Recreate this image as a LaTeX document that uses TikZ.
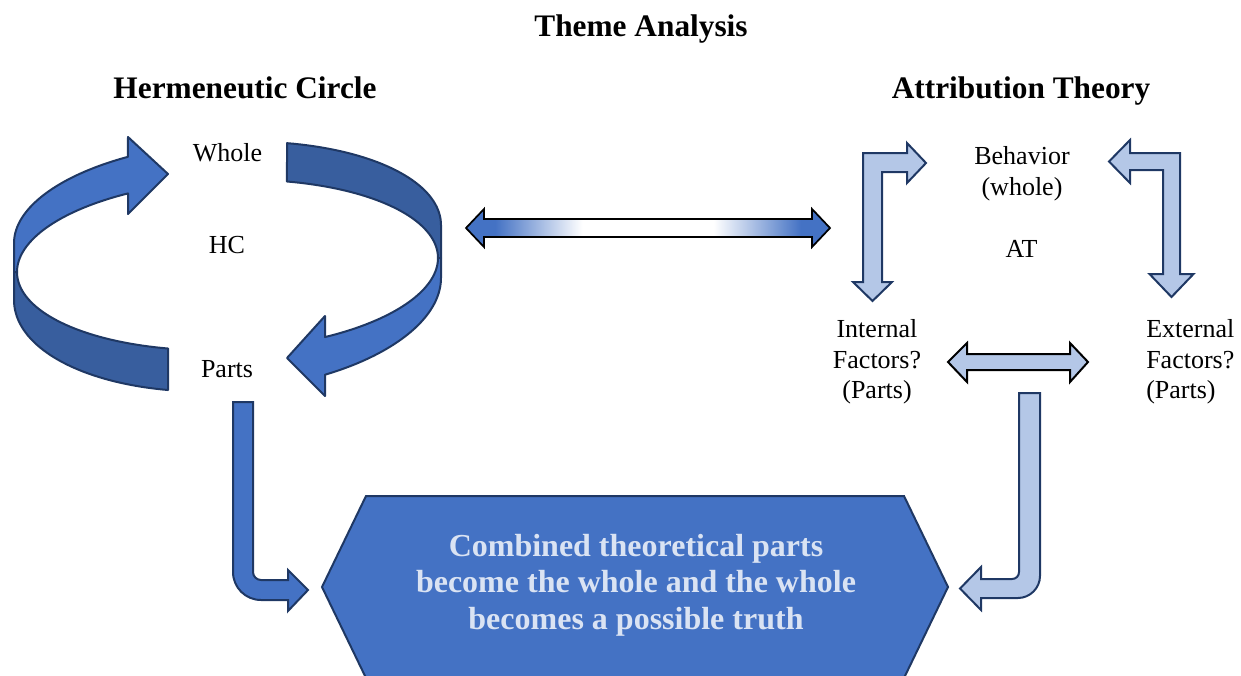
\documentclass[tikz,border=0pt]{standalone}
\usepackage{fontspec}
\setmainfont{Liberation Serif}
\definecolor{hcblue}{RGB}{68,114,196}
\definecolor{hcdark}{RGB}{56,94,158}
\definecolor{navy}{RGB}{31,56,100}
\definecolor{atlight}{RGB}{180,199,231}
\definecolor{hextext}{RGB}{218,227,243}
\pgfdeclarehorizontalshading{dblshade}{100bp}{color(0bp)=(hcblue); color(25bp)=(hcblue); color(29bp)=(hcblue); color(41bp)=(white); color(59bp)=(white); color(71bp)=(hcblue); color(75bp)=(hcblue); color(100bp)=(hcblue)}
\tikzset{
  lbl/.style={font=\fontsize{19.5}{23}\selectfont, inner sep=0pt},
  ttl/.style={font=\bfseries\fontsize{23.5}{28}\selectfont, inner sep=0pt},
  hextxt/.style={font=\bfseries\fontsize{24}{27.5}\selectfont, text=hextext, align=center, inner sep=0pt},
  ribL/.style={fill=hcblue, draw=navy, line width=1.5pt, line join=round},
  ribD/.style={fill=hcdark, draw=navy, line width=1.5pt, line join=round},
  atarrow/.style={fill=atlight, draw=navy, line width=1.5pt, line join=miter},
  hcarrow/.style={fill=hcblue, draw=navy, line width=1.5pt, line join=miter},
  dblarrow/.style={draw=black, line width=1.3pt, line join=miter},
}
\begin{document}
\begin{tikzpicture}[x=0.75pt,y=-0.75pt]
\useasboundingbox (0,0) rectangle (1241,675);

% ---- Hermeneutic circle ribbon ----
% light upper-left arrow
\filldraw[ribL]
  plot[domain=117.8:180, samples=40] ({227.5+213.5*cos(\x)},{234-9*cos(\x)-92*sin(\x)})
  -- (14,272) -- (17,272)
  -- plot[domain=180:118.2, samples=40] ({227.5+210.5*cos(\x)},{265-7*cos(\x)-85*sin(\x)})
  -- (128,214) -- (168,174) -- (128,137) -- cycle;
% dark lower-left tail
\filldraw[ribD]
  plot[domain=180:253.6, samples=40] ({227.5+210.5*cos(\x)},{265-7*cos(\x)-85*sin(\x)})
  -- (168,390)
  -- plot[domain=253.8:180, samples=40] ({227.5+213.5*cos(\x)},{289-11*cos(\x)-102*sin(\x)})
  -- (14,272) -- cycle;
% dark upper-right tail
\filldraw[ribD]
  plot[domain=73.8:0, samples=40] ({227.5+213.5*cos(\x)},{234-9*cos(\x)-92*sin(\x)})
  -- (441,258) -- (438,258)
  -- plot[domain=0:73.6, samples=40] ({227.5+210.5*cos(\x)},{265-7*cos(\x)-85*sin(\x)})
  -- cycle;
% light lower-right arrow
\filldraw[ribL]
  plot[domain=360:297.2, samples=40] ({227.5+213.5*cos(\x)},{289-11*cos(\x)-102*sin(\x)})
  -- (325,396) -- (287,358) -- (325,316)
  -- plot[domain=297.6:360, samples=40] ({227.5+210.5*cos(\x)},{265-7*cos(\x)-85*sin(\x)})
  -- (441,258) -- cycle;

% ---- texts ----
\node[ttl, anchor=base] (title) at (641,36) {Theme Analysis};
\node[ttl, anchor=base] (hctitle) at (245,98) {Hermeneutic Circle};
\node[ttl, anchor=base] (attitle) at (1021,98) {Attribution Theory};
\node[lbl, anchor=base] (whole) at (227.5,161) {Whole};
\node[lbl, anchor=base] (hc) at (227,253) {HC};
\node[lbl, anchor=base] (parts) at (227,377) {Parts};
\node[lbl, align=center] (behavior) at (1022,174) {Behavior\\(whole)};
\node[lbl, anchor=base] (at) at (1021.5,257) {AT};
\node[lbl, align=center] (internal) at (877,362) {Internal\\Factors?\\(Parts)};
\node[lbl, align=left, anchor=west] (external) at (1146,362) {External\\Factors?\\(Parts)};

% ---- middle double arrow ----
\shadedraw[dblarrow, shading=dblshade]
  (466,228) -- (484,209) -- (484,219) -- (812,219) -- (812,209) -- (830,228)
  -- (812,247) -- (812,237) -- (484,237) -- (484,247) -- cycle;

% ---- attribution theory arrows ----
\filldraw[atarrow]
  (863,282) -- (863,153) -- (907,153) -- (907,143) -- (926,163) -- (907,183)
  -- (907,172) -- (882,172) -- (882,282) -- (892,282) -- (872.5,301) -- (853,282) -- cycle;
\filldraw[atarrow]
  (1180,274) -- (1180,153) -- (1130,153) -- (1130,140) -- (1109,161.5) -- (1130,183)
  -- (1130,170) -- (1163,170) -- (1163,274) -- (1149.5,274) -- (1171.5,297) -- (1193.5,274) -- cycle;
\filldraw[atarrow, draw=black]
  (948,362) -- (967,343) -- (967,354) -- (1070,354) -- (1070,343) -- (1088,362)
  -- (1070,382) -- (1070,370) -- (967,370) -- (967,382) -- cycle;

% ---- bottom hexagon ----
\filldraw[hcarrow] (322,587) -- (366,496) -- (904,496) -- (948,587) -- (904,678) -- (366,678) -- cycle;
\node[hextxt] (result) at (636,585) {Combined theoretical parts\\become the whole and the whole\\becomes a possible truth};

% ---- bent arrows into hexagon ----
\filldraw[hcarrow]
  (233,402) -- (253,402) -- (253,572) .. controls (253,576.4) and (256.6,580) .. (261,580)
  -- (288,580) -- (288,570) -- (308,590) -- (288,611) -- (288,600) -- (261,600)
  .. controls (245.5,600) and (233,587.5) .. (233,572) -- cycle;
\filldraw[atarrow]
  (1019,393) -- (1040,393) -- (1040,576) .. controls (1040,588) and (1030,598) .. (1018,598)
  -- (981,598) -- (981,610) -- (960,588.5) -- (981,567) -- (981,579) -- (1012,579)
  .. controls (1016,579) and (1019,576) .. (1019,572) -- cycle;
\end{tikzpicture}
\end{document}
